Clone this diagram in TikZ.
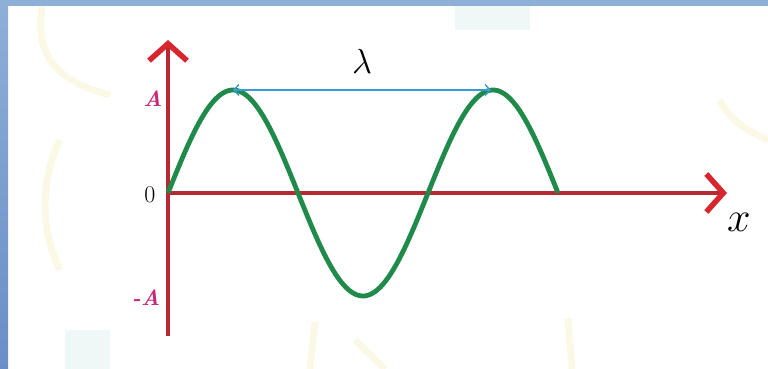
\documentclass[tikz,border=0pt]{standalone}
\usetikzlibrary{arrows.meta,positioning}
\definecolor{wvframe}{HTML}{8EAFD8}
\definecolor{wvframedark}{HTML}{6A8EC6}
\definecolor{wvaxis}{HTML}{B82830}
\definecolor{wvtip}{HTML}{D8262E}
\definecolor{wvgreen}{HTML}{1F8A4A}
\definecolor{wvblue}{HTML}{3A9BD0}
\definecolor{wvmagenta}{HTML}{C8287A}
\definecolor{wvdeco}{HTML}{F7EDB8}
\definecolor{wvdecoteal}{HTML}{CFEDE6}

\begin{document}
\begin{tikzpicture}[
 x=1pt,y=-1pt,
 axis/.style={line width=3.6pt,wvaxis,
   -{Straight Barb[length=17pt,width=38pt,line width=5.5pt,color=wvtip]}},
 wave/.style={line width=4.8pt,wvgreen,line join=round},
 span/.style={line width=1.8pt,wvblue,
   {Straight Barb[length=5pt,width=11pt,line width=1.4pt]}-{Straight Barb[length=5pt,width=11pt,line width=1.4pt]}},
 tick/.style={font=\fontsize{22}{22}\selectfont\bfseries\itshape,wvmagenta,inner sep=0pt},
 big/.style={font=\fontsize{24}{24}\selectfont,inner sep=0pt},
 deco/.style={line width=7pt,wvdeco,opacity=0.35}
]
\useasboundingbox (0,0) rectangle (768,369);
\clip (0,0) rectangle (768,369);
% page and frame
\fill[white] (0,0) rectangle (768,369);

% faint background decoration
\draw[deco] (42,6) .. controls (36,50) and (50,80) .. (110,95);
\draw[deco] (60,140) .. controls (40,180) and (40,230) .. (60,270);
\draw[deco] (315,322) -- (310,369);
\draw[deco] (568,318) -- (572,369);
\draw[deco] (355,340) -- (385,369);
\draw[deco] (768,140) .. controls (745,130) and (730,120) .. (720,100);
\fill[wvdecoteal,opacity=0.35] (455,6) rectangle (530,30);
\fill[wvdecoteal,opacity=0.35] (65,330) rectangle (110,369);

\fill[wvframe] (0,0) rectangle (768,6);
\shade[top color=wvframe,bottom color=wvframedark] (0,0) rectangle (8,369);

% axes
\coordinate (origin) at (168,193);
\coordinate (xend) at (727,193);
\coordinate (ytop) at (168,40);
\coordinate (ybot) at (168,336);
\draw[axis] (origin) -- (xend);
\draw[line width=3.6pt,wvaxis] (ybot) -- (origin);
\draw[axis] (origin) -- (ytop);

% wave, one and a half periods
\draw[wave] plot[domain=0:390,samples=150,smooth] ({168+\x},{193-103*sin(\x/260*360)});

% wavelength
\coordinate (crestL) at (233,90);
\coordinate (crestR) at (491,90);
\draw[span] (crestL) -- (crestR);
\node[big] (lam) at (362,61) {\scalebox{1.4}{$\lambda$}};

% labels
\node[tick] (amax) at (153,99) {A};
\node[big] (zero) at (150,195) {0};
\node[tick] (amin) at (146,298) {-A};
\node[big] (xlab) at (739,222) {\scalebox{1.7}{$x$}};
\end{tikzpicture}
\end{document}
